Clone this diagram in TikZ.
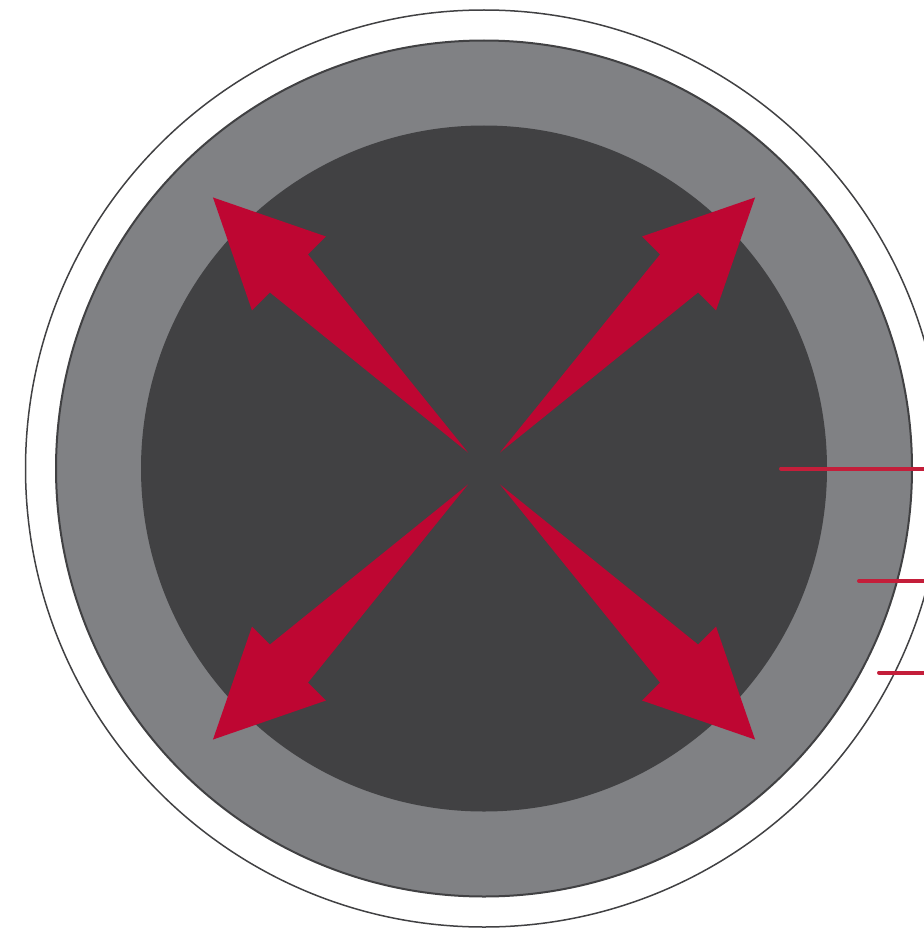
\documentclass[tikz,border=0pt]{standalone}
\definecolor{arrowred}{HTML}{BE0632}
\definecolor{linered}{HTML}{C41E3A}
\definecolor{coregray}{HTML}{414143}
\definecolor{ringgray}{HTML}{808184}
\definecolor{edgegray}{HTML}{414143}
\tikzset{
  outerring/.style={draw=edgegray, line width=1.5pt},
  midring/.style={fill=ringgray, draw=edgegray, line width=2pt},
  core/.style={fill=coregray},
  bigarrow/.style={fill=arrowred},
  leader/.style={draw=linered, line width=4pt, line cap=round}
}
\begin{document}
\begin{tikzpicture}[x=1pt,y=-1pt]
\useasboundingbox (0,0) rectangle (923,931);
\coordinate (c) at (484,468.5);
\path[outerring] (c) circle[radius=458.5];
\path[midring] (c) circle[radius=428];
\path[core] (c) circle[radius=343];
\foreach \a in {45,135,225,315}{
  \path[bigarrow, shift={(c)}, rotate=\a]
    (22.6,0) -- (275.8,26.9) -- (275.8,52.3) -- (383.3,0)
    -- (275.8,-52.3) -- (275.8,-26.9) -- cycle;
}
\coordinate (l1s) at (781,468.5);
\coordinate (l1e) at (935,468.5);
\coordinate (l2s) at (859,581);
\coordinate (l2e) at (935,581);
\coordinate (l3s) at (879,672.5);
\coordinate (l3e) at (935,672.5);
\draw[leader] (l1s) -- (l1e);
\draw[leader] (l2s) -- (l2e);
\draw[leader] (l3s) -- (l3e);
\end{tikzpicture}
\end{document}
